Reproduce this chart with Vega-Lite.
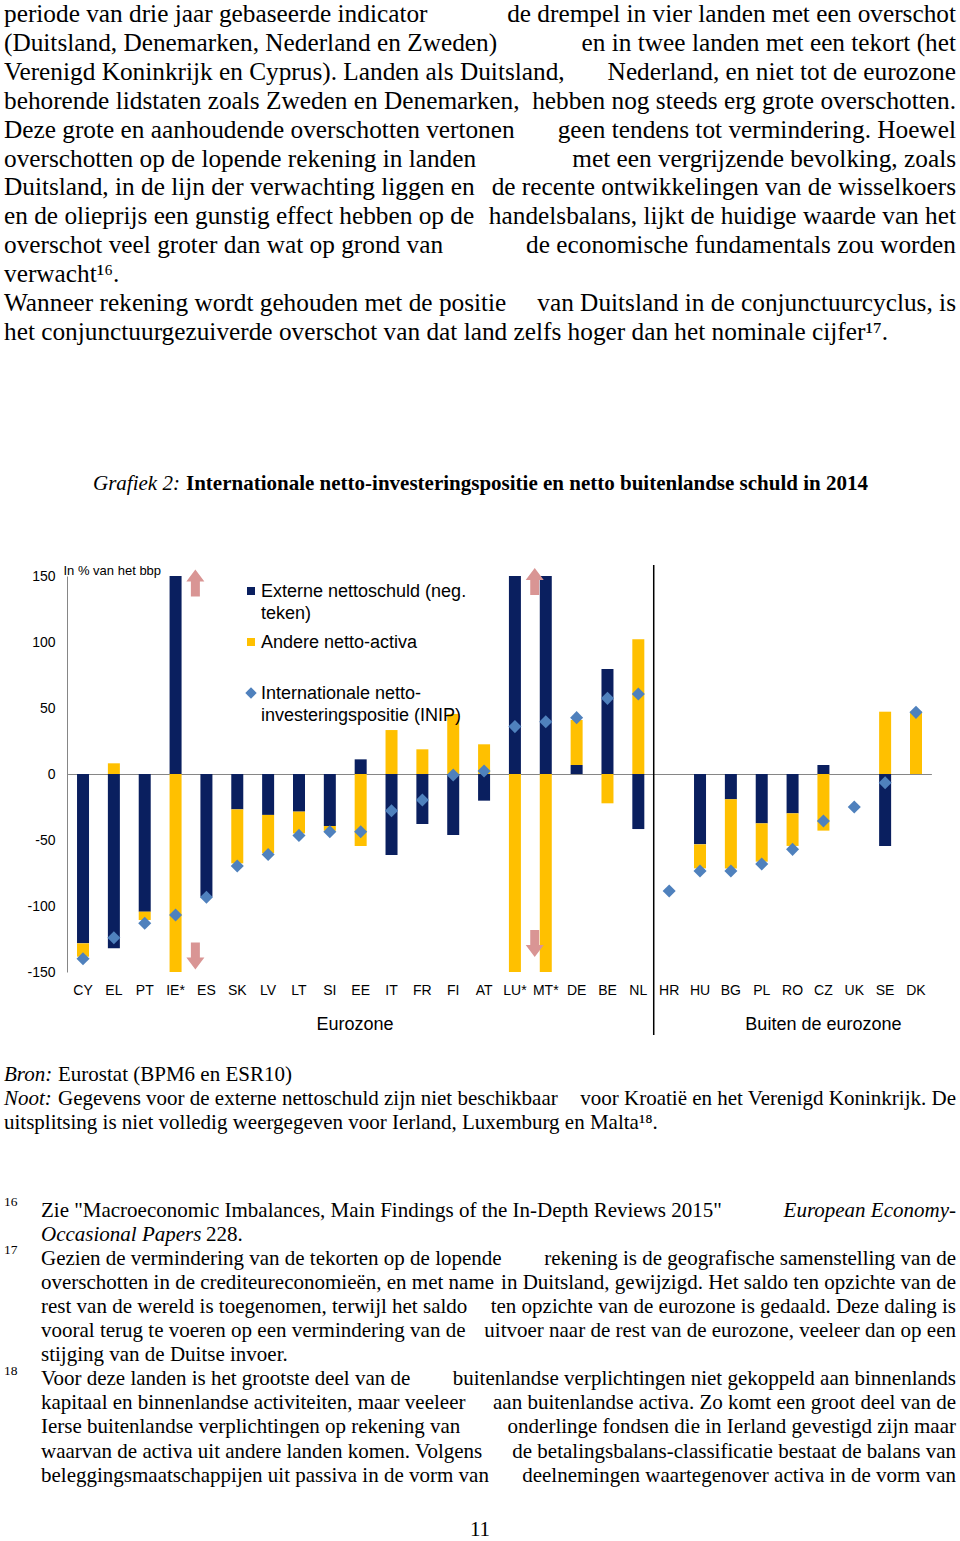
{
  "$schema": "https://vega.github.io/schema/vega-lite/v6.json",
  "width": 960,
  "height": 1541,
  "autosize": {"type": "none"},
  "padding": 0,
  "background": "white",
  "config": {"view": {"stroke": null}, "axis": {"grid": false}},
  "datasets": {
    "bars": [
      {"country": "CY", "series": "Externe nettoschuld (neg. teken)", "value": -128.3},
      {"country": "CY", "series": "Andere netto-activa", "value": -10.1},
      {"country": "EL", "series": "Externe nettoschuld (neg. teken)", "value": -132.0},
      {"country": "EL", "series": "Andere netto-activa", "value": 8.1},
      {"country": "PT", "series": "Externe nettoschuld (neg. teken)", "value": -104.3},
      {"country": "PT", "series": "Andere netto-activa", "value": -6.3},
      {"country": "IE*", "series": "Externe nettoschuld (neg. teken)", "value": 150},
      {"country": "IE*", "series": "Andere netto-activa", "value": -150},
      {"country": "ES", "series": "Externe nettoschuld (neg. teken)", "value": -93.0},
      {"country": "SK", "series": "Externe nettoschuld (neg. teken)", "value": -26.8},
      {"country": "SK", "series": "Andere netto-activa", "value": -40.9},
      {"country": "LV", "series": "Externe nettoschuld (neg. teken)", "value": -31.0},
      {"country": "LV", "series": "Andere netto-activa", "value": -29.0},
      {"country": "LT", "series": "Externe nettoschuld (neg. teken)", "value": -28.5},
      {"country": "LT", "series": "Andere netto-activa", "value": -16.5},
      {"country": "SI", "series": "Externe nettoschuld (neg. teken)", "value": -39.4},
      {"country": "SI", "series": "Andere netto-activa", "value": -3.6},
      {"country": "EE", "series": "Externe nettoschuld (neg. teken)", "value": 11.1},
      {"country": "EE", "series": "Andere netto-activa", "value": -54.5},
      {"country": "IT", "series": "Externe nettoschuld (neg. teken)", "value": -61.4},
      {"country": "IT", "series": "Andere netto-activa", "value": 33.3},
      {"country": "FR", "series": "Externe nettoschuld (neg. teken)", "value": -37.9},
      {"country": "FR", "series": "Andere netto-activa", "value": 18.7},
      {"country": "FI", "series": "Externe nettoschuld (neg. teken)", "value": -46.2},
      {"country": "FI", "series": "Andere netto-activa", "value": 45.5},
      {"country": "AT", "series": "Externe nettoschuld (neg. teken)", "value": -20.2},
      {"country": "AT", "series": "Andere netto-activa", "value": 22.5},
      {"country": "LU*", "series": "Externe nettoschuld (neg. teken)", "value": 150},
      {"country": "LU*", "series": "Andere netto-activa", "value": -150},
      {"country": "MT*", "series": "Externe nettoschuld (neg. teken)", "value": 150},
      {"country": "MT*", "series": "Andere netto-activa", "value": -150},
      {"country": "DE", "series": "Externe nettoschuld (neg. teken)", "value": 6.8},
      {"country": "DE", "series": "Andere netto-activa", "value": 34.1},
      {"country": "BE", "series": "Externe nettoschuld (neg. teken)", "value": 79.5},
      {"country": "BE", "series": "Andere netto-activa", "value": -22.2},
      {"country": "NL", "series": "Externe nettoschuld (neg. teken)", "value": -41.7},
      {"country": "NL", "series": "Andere netto-activa", "value": 102.0},
      {"country": "HU", "series": "Externe nettoschuld (neg. teken)", "value": -53.3},
      {"country": "HU", "series": "Andere netto-activa", "value": -18.2},
      {"country": "BG", "series": "Externe nettoschuld (neg. teken)", "value": -19.2},
      {"country": "BG", "series": "Andere netto-activa", "value": -52.3},
      {"country": "PL", "series": "Externe nettoschuld (neg. teken)", "value": -37.4},
      {"country": "PL", "series": "Andere netto-activa", "value": -29.0},
      {"country": "RO", "series": "Externe nettoschuld (neg. teken)", "value": -29.8},
      {"country": "RO", "series": "Andere netto-activa", "value": -24.7},
      {"country": "CZ", "series": "Externe nettoschuld (neg. teken)", "value": 6.8},
      {"country": "CZ", "series": "Andere netto-activa", "value": -42.9},
      {"country": "SE", "series": "Externe nettoschuld (neg. teken)", "value": -54.5},
      {"country": "SE", "series": "Andere netto-activa", "value": 47.2},
      {"country": "DK", "series": "Andere netto-activa", "value": 47.2}
    ],
    "inip": [
      {"country": "CY", "inip": -140.0}, {"country": "EL", "inip": -124.0}, {"country": "PT", "inip": -113.0},
      {"country": "IE*", "inip": -106.8}, {"country": "ES", "inip": -93.4}, {"country": "SK", "inip": -69.7},
      {"country": "LV", "inip": -61.0}, {"country": "LT", "inip": -46.5}, {"country": "SI", "inip": -43.7},
      {"country": "EE", "inip": -43.7}, {"country": "IT", "inip": -27.8}, {"country": "FR", "inip": -19.7},
      {"country": "FI", "inip": -0.8}, {"country": "AT", "inip": 2.3}, {"country": "LU*", "inip": 35.9},
      {"country": "MT*", "inip": 39.6}, {"country": "DE", "inip": 42.7}, {"country": "BE", "inip": 57.3},
      {"country": "NL", "inip": 60.6}, {"country": "HR", "inip": -88.6}, {"country": "HU", "inip": -73.5},
      {"country": "BG", "inip": -73.5}, {"country": "PL", "inip": -68.2}, {"country": "RO", "inip": -57.1},
      {"country": "CZ", "inip": -35.6}, {"country": "UK", "inip": -25.0}, {"country": "SE", "inip": -6.6},
      {"country": "DK", "inip": 46.7}
    ],
    "arrows": [
      {"country": "IE*", "dir": "up", "v": 144.7},
      {"country": "IE*", "dir": "down", "v": -137.9},
      {"country": "LU*", "dir": "up", "v": 145.8},
      {"country": "LU*", "dir": "down", "v": -128.4}
    ],
    "para": [
      {"line": 0, "a": "periode van drie jaar gebaseerde indicator", "b": "de drempel in vier landen met een overschot"},
      {"line": 1, "a": "(Duitsland, Denemarken, Nederland en Zweden)", "b": "en in twee landen met een tekort (het"},
      {"line": 2, "a": "Verenigd Koninkrijk en Cyprus). Landen als Duitsland,", "b": "Nederland, en niet tot de eurozone"},
      {"line": 3, "a": "behorende lidstaten zoals Zweden en Denemarken,", "b": "hebben nog steeds erg grote overschotten."},
      {"line": 4, "a": "Deze grote en aanhoudende overschotten vertonen", "b": "geen tendens tot vermindering. Hoewel"},
      {"line": 5, "a": "overschotten op de lopende rekening in landen", "b": "met een vergrijzende bevolking, zoals"},
      {"line": 6, "a": "Duitsland, in de lijn der verwachting liggen en", "b": "de recente ontwikkelingen van de wisselkoers"},
      {"line": 7, "a": "en de olieprijs een gunstig effect hebben op de", "b": "handelsbalans, lijkt de huidige waarde van het"},
      {"line": 8, "a": "overschot veel groter dan wat op grond van", "b": "de economische fundamentals zou worden"},
      {"line": 9, "a": "verwacht¹⁶.", "b": ""},
      {"line": 10, "a": "Wanneer rekening wordt gehouden met de positie", "b": "van Duitsland in de conjunctuurcyclus, is"},
      {"line": 11, "a": "het conjunctuurgezuiverde overschot van dat land zelfs hoger dan het nominale cijfer¹⁷.", "b": ""}
    ],
    "source": [
      {"line": 0, "lead": "Bron:", "a": "Eurostat (BPM6 en ESR10)", "b": "", "full": ""},
      {"line": 1, "lead": "Noot:", "a": "Gegevens voor de externe nettoschuld zijn niet beschikbaar", "b": "voor Kroatië en het Verenigd Koninkrijk. De", "full": ""},
      {"line": 2, "lead": "", "a": "", "b": "", "full": "uitsplitsing is niet volledig weergegeven voor Ierland, Luxemburg en Malta¹⁸."}
    ],
    "foot": [
      {"line": 0, "num": "16", "a": "Zie \"Macroeconomic Imbalances, Main Findings of the In-Depth Reviews 2015\"", "b": "", "ai": "", "bi": "European Economy-", "c": ""},
      {"line": 1, "num": "", "a": "", "b": "", "ai": "Occasional Papers", "bi": "", "c": "228."},
      {"line": 2, "num": "17", "a": "Gezien de vermindering van de tekorten op de lopende", "b": "rekening is de geografische samenstelling van de", "ai": "", "bi": "", "c": ""},
      {"line": 3, "num": "", "a": "overschotten in de crediteureconomieën, en met name", "b": "in Duitsland, gewijzigd. Het saldo ten opzichte van de", "ai": "", "bi": "", "c": ""},
      {"line": 4, "num": "", "a": "rest van de wereld is toegenomen, terwijl het saldo", "b": "ten opzichte van de eurozone is gedaald. Deze daling is", "ai": "", "bi": "", "c": ""},
      {"line": 5, "num": "", "a": "vooral terug te voeren op een vermindering van de", "b": "uitvoer naar de rest van de eurozone, veeleer dan op een", "ai": "", "bi": "", "c": ""},
      {"line": 6, "num": "", "a": "stijging van de Duitse invoer.", "b": "", "ai": "", "bi": "", "c": ""},
      {"line": 7, "num": "18", "a": "Voor deze landen is het grootste deel van de", "b": "buitenlandse verplichtingen niet gekoppeld aan binnenlands", "ai": "", "bi": "", "c": ""},
      {"line": 8, "num": "", "a": "kapitaal en binnenlandse activiteiten, maar veeleer", "b": "aan buitenlandse activa. Zo komt een groot deel van de", "ai": "", "bi": "", "c": ""},
      {"line": 9, "num": "", "a": "Ierse buitenlandse verplichtingen op rekening van", "b": "onderlinge fondsen die in Ierland gevestigd zijn maar", "ai": "", "bi": "", "c": ""},
      {"line": 10, "num": "", "a": "waarvan de activa uit andere landen komen. Volgens", "b": "de betalingsbalans-classificatie bestaat de balans van", "ai": "", "bi": "", "c": ""},
      {"line": 11, "num": "", "a": "beleggingsmaatschappijen uit passiva in de vorm van", "b": "deelnemingen waartegenover activa in de vorm van", "ai": "", "bi": "", "c": ""}
    ]
  },
  "layer": [
    {
      "layer": [
        {
          "data": {"name": "bars"},
          "mark": {"type": "bar"},
          "encoding": {
            "x": {
              "field": "country", "type": "nominal",
              "scale": {
                "domain": ["CY","EL","PT","IE*","ES","SK","LV","LT","SI","EE","IT","FR","FI","AT","LU*","MT*","DE","BE","NL","HR","HU","BG","PL","RO","CZ","UK","SE","DK"],
                "range": [67.6, 931.4], "paddingInner": 0.611, "paddingOuter": 0.3055
              },
              "axis": {"orient": "bottom", "offset": -569, "domain": false, "ticks": false, "tickSize": 0, "labelPadding": 11, "labelAngle": 0, "labelOverlap": false, "labelFont": "Liberation Sans", "labelFontSize": 14, "labelColor": "black", "title": null, "grid": false}
            },
            "y": {
              "field": "value", "type": "quantitative", "stack": "zero",
              "scale": {"domain": [-150, 150], "range": [972, 576], "nice": false, "zero": false},
              "axis": {"orient": "left", "offset": -67, "values": [-150, -100, -50, 0, 50, 100, 150], "labelExpr": "'' + datum.value", "ticks": false, "tickSize": 0, "domain": true, "domainColor": "#868686", "domainWidth": 1, "labelPadding": 12, "labelOverlap": false, "labelFont": "Liberation Sans", "labelFontSize": 14, "labelColor": "black", "grid": false,
                "title": "In % van het bbp", "titleAngle": 0, "titleX": -4, "titleY": 570, "titleAlign": "left", "titleBaseline": "middle", "titleFont": "Liberation Sans", "titleFontSize": 13, "titleFontWeight": "normal", "titleColor": "black"}
            },
            "color": {
              "field": "series", "type": "nominal",
              "scale": {"domain": ["Externe nettoschuld (neg. teken)", "Andere netto-activa", "Internationale netto-investeringspositie (INIP)"], "range": ["#0A1F5F", "#FFC000", "#4F81BD"]},
              "legend": {
                "orient": "none", "legendX": 242, "legendY": 582, "title": null, "direction": "vertical",
                "labelFont": "Liberation Sans", "labelFontSize": 18, "labelColor": "black", "labelLimit": 0, "labelOffset": 1, "labelBaseline": "top",
                "rowPadding": 10, "symbolType": "square", "symbolSize": 64, "symbolStrokeWidth": 0, "symbolOpacity": 1,
                "labelExpr": "datum.label == 'Externe nettoschuld (neg. teken)' ? ['Externe nettoschuld (neg.', 'teken)'] : datum.label == 'Andere netto-activa' ? ['Andere netto-activa', ' '] : ['Internationale netto-', 'investeringspositie (INIP)']",
                "encode": {
                  "symbols": {"update": {
                    "shape": {"signal": "datum.value == 'Internationale netto-investeringspositie (INIP)' ? 'diamond' : 'square'"},
                    "size": {"signal": "datum.value == 'Internationale netto-investeringspositie (INIP)' ? 130 : 64"}
                  }},
                  "labels": {"update": {"dy": {"value": -7.7}, "lineHeight": {"value": 21.3}}}
                }
              }
            },
            "order": {"field": "series", "sort": "descending"}
          }
        },
        {
          "data": {"name": "inip"},
          "mark": {"type": "point", "shape": "diamond", "filled": true, "size": 170, "color": "#4F81BD", "opacity": 1},
          "encoding": {
            "x": {"field": "country", "type": "nominal", "axis": {"orient": "bottom", "offset": -767, "domain": true, "domainColor": "#868686", "domainWidth": 1, "labels": false, "ticks": false, "title": null, "grid": false}},
            "y": {"field": "inip", "type": "quantitative"}
          }
        },
        {
          "data": {"name": "arrows"},
          "mark": {"type": "point", "filled": true, "size": 729, "color": "#D99594", "opacity": 1, "strokeWidth": 0},
          "encoding": {
            "x": {"field": "country", "type": "nominal", "bandPosition": 2.15, "axis": null},
            "y": {"field": "v", "type": "quantitative"},
            "shape": {"field": "dir", "type": "nominal", "scale": {"domain": ["up", "down"], "range": ["M0,-1L0.667,-0.11L0.333,-0.11L0.333,1L-0.333,1L-0.333,-0.11L-0.667,-0.11Z", "M0,1L0.667,0.11L0.333,0.11L0.333,-1L-0.333,-1L-0.333,0.11L-0.667,0.11Z"]}, "legend": null}
          }
        },
        {
          "data": {"values": [{}]},
          "mark": {"type": "rule", "color": "black", "strokeWidth": 1.5},
          "encoding": {
            "x": {"datum": "NL", "type": "nominal", "bandPosition": 1.783, "axis": null},
            "y": {"datum": 158.3, "type": "quantitative"},
            "y2": {"datum": -197.7}
          }
        },
        {
          "data": {"values": [{}]},
          "mark": {"type": "text", "font": "Liberation Sans", "fontSize": 18, "color": "black", "align": "center", "baseline": "middle"},
          "encoding": {
            "x": {"datum": "EE", "type": "nominal", "bandPosition": 0.03, "axis": null},
            "y": {"datum": -190.2, "type": "quantitative"},
            "text": {"value": "Eurozone"}
          }
        },
        {
          "data": {"values": [{}]},
          "mark": {"type": "text", "font": "Liberation Sans", "fontSize": 18, "color": "black", "align": "center", "baseline": "middle"},
          "encoding": {
            "x": {"datum": "CZ", "type": "nominal", "bandPosition": 0.5, "axis": null},
            "y": {"datum": -190.2, "type": "quantitative"},
            "text": {"value": "Buiten de eurozone"}
          }
        }
      ],
      "resolve": {"axis": {"x": "independent"}}
    },
    {
      "data": {"name": "para"},
      "encoding": {"y": {"field": "line", "type": "quantitative", "scale": {"domain": [0, 11], "range": [22, 339.9], "nice": false, "zero": false}, "axis": null}},
      "layer": [
        {"mark": {"type": "text", "font": "Liberation Serif", "fontSize": 25.3, "align": "left", "baseline": "alphabetic", "color": "black"},
         "encoding": {"x": {"value": 4}, "text": {"field": "a", "type": "nominal"}}},
        {"mark": {"type": "text", "font": "Liberation Serif", "fontSize": 25.3, "align": "right", "baseline": "alphabetic", "color": "black"},
         "encoding": {"x": {"value": 956}, "text": {"field": "b", "type": "nominal"}}}
      ]
    },
    {
      "data": {"values": [{"line": 0, "it": "Grafiek 2:", "bd": "Internationale netto-investeringspositie en netto buitenlandse schuld in 2014"}]},
      "encoding": {"y": {"field": "line", "type": "quantitative", "scale": {"domain": [0, 1], "range": [489.5, 513.5], "nice": false, "zero": false}, "axis": null}},
      "layer": [
        {"mark": {"type": "text", "font": "Liberation Serif", "fontSize": 21, "fontStyle": "italic", "align": "left", "baseline": "alphabetic", "color": "black"},
         "encoding": {"x": {"value": 93}, "text": {"field": "it", "type": "nominal"}}},
        {"mark": {"type": "text", "font": "Liberation Serif", "fontSize": 21, "fontWeight": "bold", "align": "left", "baseline": "alphabetic", "color": "black"},
         "encoding": {"x": {"value": 186}, "text": {"field": "bd", "type": "nominal"}}}
      ]
    },
    {
      "data": {"name": "source"},
      "encoding": {"y": {"field": "line", "type": "quantitative", "scale": {"domain": [0, 2], "range": [1081, 1129], "nice": false, "zero": false}, "axis": null}},
      "layer": [
        {"mark": {"type": "text", "font": "Liberation Serif", "fontSize": 21, "fontStyle": "italic", "align": "left", "baseline": "alphabetic", "color": "black"},
         "encoding": {"x": {"value": 4}, "text": {"field": "lead", "type": "nominal"}}},
        {"mark": {"type": "text", "font": "Liberation Serif", "fontSize": 21, "align": "left", "baseline": "alphabetic", "color": "black"},
         "encoding": {"x": {"value": 58}, "text": {"field": "a", "type": "nominal"}}},
        {"mark": {"type": "text", "font": "Liberation Serif", "fontSize": 21, "align": "right", "baseline": "alphabetic", "color": "black"},
         "encoding": {"x": {"value": 956}, "text": {"field": "b", "type": "nominal"}}},
        {"mark": {"type": "text", "font": "Liberation Serif", "fontSize": 21, "align": "left", "baseline": "alphabetic", "color": "black"},
         "encoding": {"x": {"value": 4}, "text": {"field": "full", "type": "nominal"}}}
      ]
    },
    {
      "data": {"name": "foot"},
      "encoding": {"y": {"field": "line", "type": "quantitative", "scale": {"domain": [0, 11], "range": [1216.5, 1481.6], "nice": false, "zero": false}, "axis": null}},
      "layer": [
        {"data": {"values": [{}]},
         "mark": {"type": "rule", "color": "black", "strokeWidth": 1},
         "encoding": {"x": {"value": 4}, "x2": {"value": 305}, "y": {"datum": -1.349, "type": "quantitative"}}},
        {"mark": {"type": "text", "font": "Liberation Serif", "fontSize": 13.5, "align": "left", "baseline": "alphabetic", "color": "black", "dy": -10.5},
         "encoding": {"x": {"value": 4}, "text": {"field": "num", "type": "nominal"}}},
        {"mark": {"type": "text", "font": "Liberation Serif", "fontSize": 21, "align": "left", "baseline": "alphabetic", "color": "black"},
         "encoding": {"x": {"value": 41}, "text": {"field": "a", "type": "nominal"}}},
        {"mark": {"type": "text", "font": "Liberation Serif", "fontSize": 21, "align": "right", "baseline": "alphabetic", "color": "black"},
         "encoding": {"x": {"value": 956}, "text": {"field": "b", "type": "nominal"}}},
        {"mark": {"type": "text", "font": "Liberation Serif", "fontSize": 21, "fontStyle": "italic", "align": "left", "baseline": "alphabetic", "color": "black"},
         "encoding": {"x": {"value": 41}, "text": {"field": "ai", "type": "nominal"}}},
        {"mark": {"type": "text", "font": "Liberation Serif", "fontSize": 21, "fontStyle": "italic", "align": "right", "baseline": "alphabetic", "color": "black"},
         "encoding": {"x": {"value": 956}, "text": {"field": "bi", "type": "nominal"}}},
        {"mark": {"type": "text", "font": "Liberation Serif", "fontSize": 21, "align": "left", "baseline": "alphabetic", "color": "black"},
         "encoding": {"x": {"value": 206}, "text": {"field": "c", "type": "nominal"}}}
      ]
    },
    {
      "data": {"values": [{"line": 0, "t": "11"}]},
      "mark": {"type": "text", "font": "Liberation Serif", "fontSize": 21, "align": "center", "baseline": "alphabetic", "color": "black"},
      "encoding": {
        "x": {"value": 480},
        "y": {"field": "line", "type": "quantitative", "scale": {"domain": [0, 1], "range": [1536, 1560], "nice": false, "zero": false}, "axis": null},
        "text": {"field": "t", "type": "nominal"}
      }
    }
  ],
  "resolve": {"scale": {"y": "independent", "x": "independent"}}
}
